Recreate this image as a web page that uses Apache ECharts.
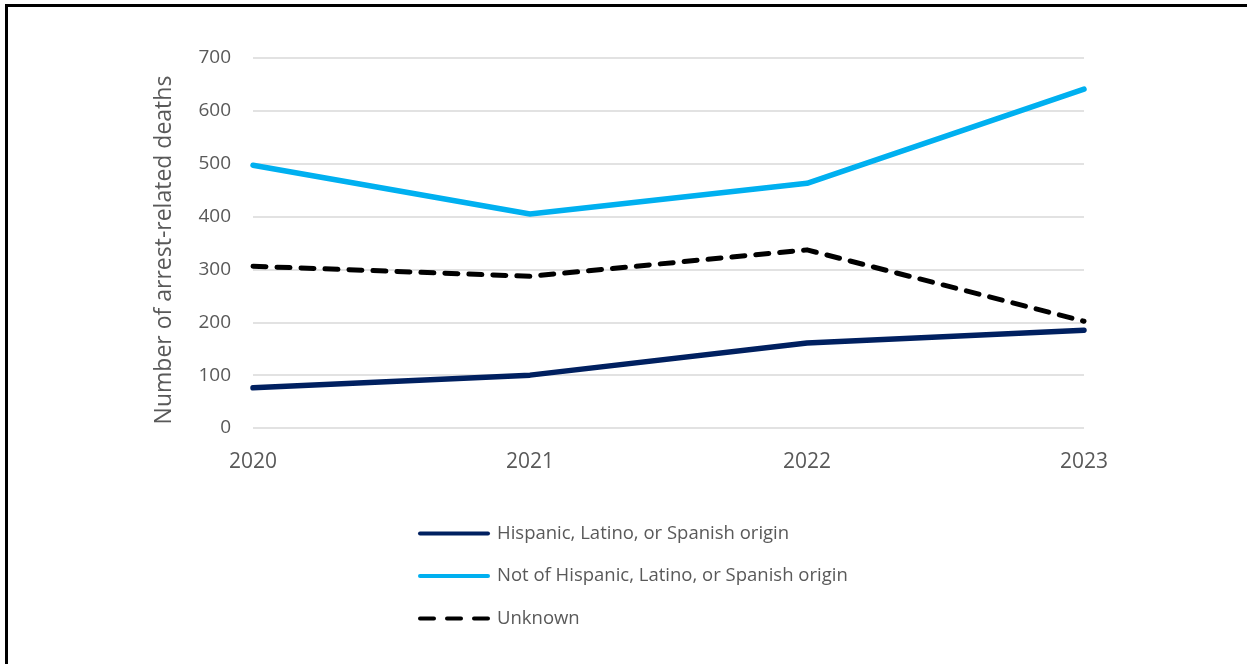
<!DOCTYPE html>
<html>
<head>
<meta charset="utf-8">
<style>
  html, body { margin: 0; padding: 0; background: #ffffff; }
  #chart { width: 1247px; height: 664px; }
</style>
<script src="https://cdn.jsdelivr.net/npm/echarts@6/dist/echarts.min.js"></script>
</head>
<body>
<div id="chart"></div>
<script>
// Arrest-related deaths by Hispanic origin, 2020–2023
const years = ['2020', '2021', '2022', '2023'];
const hispanic = [76, 100, 161, 185];
const notHispanic = [497, 405, 463, 641];
const unknown = [306, 287, 337, 202];
const yTicks = { min: 0, max: 700, interval: 100 };
const yTitle = 'Number of arrest-related deaths';

const font = '"Open Sans", Lato, sans-serif';
const textGrey = '#595959';

const solidIcon = 'path://M2,0 H70 A2,2 0 0 1 70,4 H2 A2,2 0 0 1 2,0 Z';
const dashIcon = 'path://M2,0 H16 A2,2 0 0 1 16,4 H2 A2,2 0 0 1 2,0 Z M29,0 H43 A2,2 0 0 1 43,4 H29 A2,2 0 0 1 29,0 Z M56,0 H70 A2,2 0 0 1 70,4 H56 A2,2 0 0 1 56,0 Z';

const chart = echarts.init(document.getElementById('chart'), null, { renderer: 'canvas' });

chart.setOption({
  backgroundColor: '#ffffff',
  animation: false,
  textStyle: { fontFamily: font },
  graphic: [
    {
      type: 'rect',
      shape: { x: 6.5, y: 5.5, width: 1400, height: 800 },
      style: { fill: 'none', stroke: '#000000', lineWidth: 3 },
      silent: true,
      z: 100
    },
    {
      type: 'text',
      x: 164,
      y: 250,
      rotation: Math.PI / 2,
      style: {
        text: yTitle,
        fill: textGrey,
        font: '23px "Open Sans", Lato, sans-serif',
        align: 'center',
        verticalAlign: 'middle'
      },
      silent: true
    }
  ],
  grid: { left: 253, right: 163, top: 58, bottom: 236, containLabel: false },
  xAxis: {
    type: 'category',
    data: years,
    boundaryGap: false,
    axisLine: { show: false },
    axisTick: { show: false },
    axisLabel: { color: textGrey, fontSize: 21, margin: 24, fontFamily: font }
  },
  yAxis: {
    type: 'value',
    min: yTicks.min,
    max: yTicks.max,
    interval: yTicks.interval,
    axisLine: { show: false },
    axisTick: { show: false },
    axisLabel: { color: textGrey, fontSize: 19, margin: 22, fontFamily: font },
    splitLine: { lineStyle: { color: '#d9d9d9', width: 1.5 } }
  },
  legend: {
    orient: 'vertical',
    left: 418,
    top: 524,
    padding: 0,
    itemWidth: 72,
    itemHeight: 5,
    itemGap: 23.5,
    textStyle: { color: textGrey, fontSize: 18.5, fontFamily: font, padding: [0, 0, 0, 2] },
    data: [
      { name: 'Hispanic, Latino, or Spanish origin', icon: solidIcon },
      { name: 'Not of Hispanic, Latino, or Spanish origin', icon: solidIcon },
      { name: 'Unknown', icon: dashIcon }
    ]
  },
  series: [
    {
      name: 'Hispanic, Latino, or Spanish origin',
      type: 'line',
      data: hispanic,
      symbol: 'none',
      lineStyle: { color: '#002060', width: 5.5, cap: 'round', join: 'round' },
      itemStyle: { color: '#002060' }
    },
    {
      name: 'Not of Hispanic, Latino, or Spanish origin',
      type: 'line',
      data: notHispanic,
      symbol: 'none',
      lineStyle: { color: '#00B0F0', width: 5.5, cap: 'round', join: 'round' },
      itemStyle: { color: '#00B0F0' }
    },
    {
      name: 'Unknown',
      type: 'line',
      data: unknown,
      symbol: 'none',
      lineStyle: { color: '#000000', width: 5, type: [13, 11], cap: 'round', join: 'round' },
      itemStyle: { color: '#000000' }
    }
  ]
});
</script>
</body>
</html>
